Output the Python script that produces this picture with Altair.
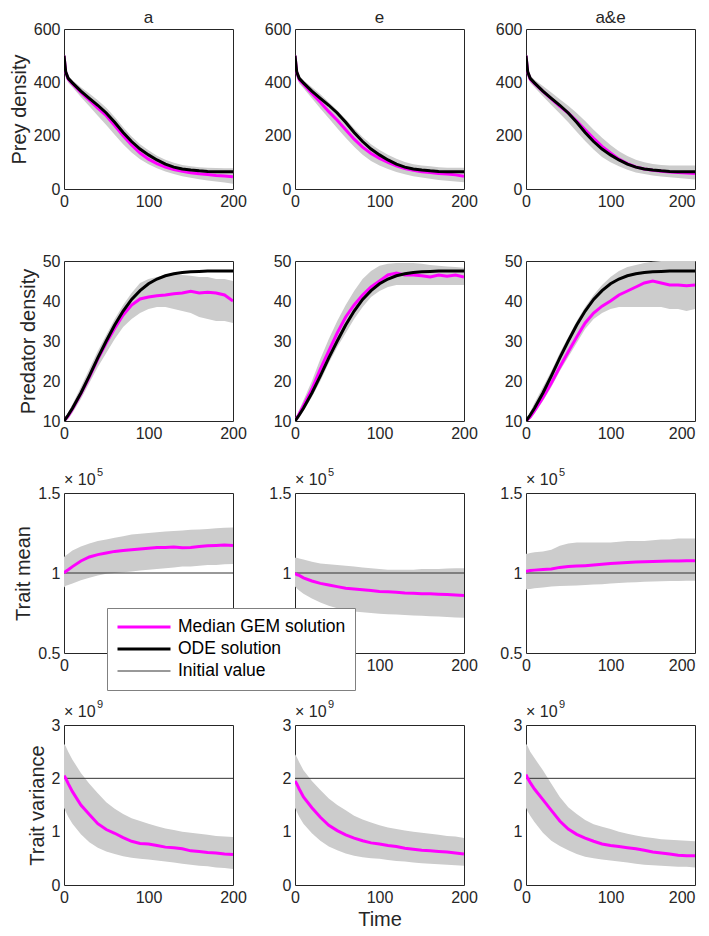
import altair as alt
import pandas as pd

T = [0, 2, 5, 10, 20, 30, 40, 50, 60, 70, 80, 90, 100, 110, 120, 130, 140, 150, 160, 170, 180, 190, 200]
COL_TITLES = ["a", "e", "a&e"]
SERIES = ["Median GEM solution", "ODE solution", "Initial value"]

# ---- Prey density ----
PREY_ODE = [500, 440, 415, 398, 367, 340, 314, 285, 250, 212, 178, 150, 128, 109, 93, 82, 75, 71, 68, 66, 65, 65, 65]
PREY_MED = [
    [500, 438, 412, 395, 362, 333, 303, 275, 238, 200, 165, 135, 112, 95, 82, 73, 66, 61, 57, 54, 51, 49, 46],
    [500, 438, 410, 393, 358, 325, 290, 258, 222, 187, 157, 133, 115, 100, 87, 77, 70, 65, 62, 58, 56, 53, 48],
    [500, 438, 412, 396, 366, 338, 310, 285, 255, 222, 190, 160, 135, 112, 95, 83, 75, 70, 67, 64, 62, 60, 58],
]
PREY_LO = [
    [470, 420, 398, 382, 345, 310, 275, 240, 203, 168, 137, 112, 93, 78, 66, 56, 48, 42, 37, 32, 28, 24, 20],
    [472, 420, 396, 378, 340, 302, 265, 228, 192, 158, 128, 105, 88, 75, 64, 55, 48, 43, 38, 34, 31, 28, 25],
    [475, 420, 398, 382, 348, 315, 283, 250, 215, 180, 148, 120, 100, 85, 72, 62, 56, 51, 47, 44, 41, 38, 36],
]
PREY_HI = [
    [500, 450, 425, 408, 382, 358, 333, 305, 270, 232, 197, 168, 145, 125, 110, 98, 90, 85, 82, 80, 79, 78, 78],
    [500, 450, 425, 408, 382, 355, 325, 295, 262, 227, 195, 168, 146, 128, 113, 101, 93, 88, 85, 82, 80, 80, 80],
    [500, 450, 426, 410, 386, 362, 337, 312, 285, 255, 222, 192, 165, 142, 124, 110, 100, 94, 90, 88, 88, 88, 88],
]

# ---- Predator density ----
PRED_ODE = [10, 10.6, 11.5, 13.2, 17.0, 21.3, 25.8, 30.0, 34.0, 37.5, 40.4, 42.6, 44.3, 45.5, 46.3, 46.8, 47.1, 47.3, 47.4, 47.5, 47.5, 47.5, 47.5]
PRED_MED = [
    [10, 10.5, 11.3, 13.0, 16.8, 21.0, 25.5, 29.5, 33.2, 36.5, 39.0, 40.5, 41.0, 41.3, 41.5, 41.8, 42.0, 42.4, 42.0, 42.2, 42.0, 41.5, 40.0],
    [10, 10.7, 11.8, 13.8, 18.0, 23.0, 27.5, 32.0, 36.0, 39.0, 41.5, 43.5, 45.0, 46.5, 47.0, 46.5, 46.5, 46.3, 46.0, 46.5, 46.2, 46.5, 46.0],
    [10, 10.4, 11.0, 12.5, 15.8, 19.5, 23.5, 27.3, 31.0, 34.5, 37.0, 38.7, 40.0, 41.5, 42.5, 43.5, 44.5, 45.0, 44.5, 44.0, 44.0, 43.8, 44.0],
]
PRED_LO = [
    [10, 10, 10.5, 12.0, 15.5, 19.5, 23.5, 27.0, 30.5, 33.5, 35.5, 37.0, 38.0, 38.5, 38.5, 38.0, 37.5, 37.0, 36.0, 35.5, 35.0, 35.0, 34.5],
    [10, 10, 10.8, 12.5, 16.0, 20.0, 24.5, 28.5, 32.0, 35.5, 38.5, 41.0, 42.5, 43.5, 44.0, 44.0, 44.0, 44.0, 44.0, 44.0, 44.0, 44.0, 44.0],
    [10, 10, 10.5, 11.8, 15.0, 18.5, 22.5, 26.0, 29.5, 33.0, 35.5, 37.0, 38.0, 38.5, 38.5, 38.5, 38.5, 38.5, 38.5, 38.0, 38.0, 37.5, 38.0],
]
PRED_HI = [
    [10, 11, 12.2, 14.2, 18.5, 23.0, 27.5, 31.5, 35.5, 39.0, 42.0, 44.5, 45.5, 46.0, 46.5, 46.5, 46.5, 46.3, 46.0, 46.0, 45.5, 45.5, 45.0],
    [10, 11.3, 12.8, 15.2, 20.0, 25.5, 30.5, 35.0, 39.0, 42.5, 45.5, 47.5, 48.8, 49.3, 49.5, 49.5, 49.5, 49.3, 49.0, 48.8, 48.6, 48.5, 48.3],
    [10, 11, 12.3, 14.5, 18.5, 22.5, 27.0, 31.0, 35.0, 38.5, 41.5, 44.0, 46.0, 47.5, 48.5, 49.0, 49.5, 49.8, 50.0, 50.0, 50.0, 50.0, 50.0],
]

# ---- Trait mean (x 1e5) ----
MEAN_INIT = 1.0
MEAN_MED = [
    [1.00, 1.01, 1.02, 1.04, 1.075, 1.10, 1.115, 1.125, 1.135, 1.14, 1.145, 1.15, 1.155, 1.16, 1.16, 1.162, 1.158, 1.16, 1.165, 1.17, 1.172, 1.175, 1.172],
    [1.00, 0.99, 0.985, 0.97, 0.95, 0.935, 0.925, 0.915, 0.905, 0.90, 0.895, 0.89, 0.885, 0.883, 0.88, 0.875, 0.873, 0.87, 0.87, 0.867, 0.865, 0.862, 0.86],
    [1.01, 1.012, 1.015, 1.018, 1.022, 1.025, 1.035, 1.04, 1.043, 1.046, 1.05, 1.055, 1.06, 1.062, 1.065, 1.068, 1.07, 1.072, 1.073, 1.075, 1.075, 1.076, 1.077],
]
MEAN_LO = [
    [0.91, 0.92, 0.925, 0.935, 0.955, 0.97, 0.985, 0.995, 1.0, 1.005, 1.01, 1.015, 1.02, 1.025, 1.03, 1.035, 1.04, 1.04, 1.045, 1.05, 1.05, 1.055, 1.056],
    [0.915, 0.905, 0.89, 0.87, 0.84, 0.815, 0.795, 0.78, 0.77, 0.76, 0.755, 0.75, 0.745, 0.742, 0.74, 0.738, 0.735, 0.733, 0.73, 0.728, 0.725, 0.722, 0.72],
    [0.895, 0.90, 0.90, 0.905, 0.91, 0.915, 0.918, 0.92, 0.922, 0.925, 0.928, 0.93, 0.935, 0.937, 0.94, 0.942, 0.945, 0.947, 0.948, 0.95, 0.95, 0.952, 0.952],
]
MEAN_HI = [
    [1.10, 1.11, 1.12, 1.14, 1.165, 1.185, 1.20, 1.21, 1.22, 1.23, 1.24, 1.245, 1.25, 1.255, 1.26, 1.262, 1.265, 1.27, 1.272, 1.275, 1.28, 1.283, 1.285],
    [1.095, 1.095, 1.09, 1.085, 1.07, 1.06, 1.055, 1.05, 1.045, 1.04, 1.035, 1.03, 1.025, 1.02, 1.02, 1.02, 1.02, 1.025, 1.025, 1.025, 1.028, 1.03, 1.03],
    [1.12, 1.12, 1.125, 1.13, 1.135, 1.145, 1.17, 1.185, 1.19, 1.19, 1.19, 1.19, 1.19, 1.195, 1.20, 1.20, 1.20, 1.205, 1.21, 1.21, 1.215, 1.215, 1.215],
]

# ---- Trait variance (x 1e9) ----
VAR_INIT = 2.0
VAR_MED = [
    [2.05, 2.0, 1.9, 1.75, 1.5, 1.32, 1.15, 1.04, 0.97, 0.89, 0.82, 0.78, 0.77, 0.74, 0.71, 0.70, 0.68, 0.64, 0.63, 0.61, 0.60, 0.58, 0.57],
    [1.95, 1.9, 1.8, 1.65, 1.45, 1.27, 1.12, 1.02, 0.94, 0.88, 0.83, 0.79, 0.77, 0.74, 0.72, 0.69, 0.67, 0.65, 0.64, 0.63, 0.62, 0.60, 0.58],
    [2.07, 2.0, 1.92, 1.8, 1.6, 1.4, 1.2, 1.05, 0.95, 0.88, 0.82, 0.77, 0.74, 0.72, 0.70, 0.68, 0.65, 0.62, 0.60, 0.58, 0.56, 0.55, 0.55],
]
VAR_LO = [
    [1.45, 1.38, 1.28, 1.15, 0.95, 0.80, 0.70, 0.63, 0.58, 0.54, 0.51, 0.49, 0.48, 0.46, 0.44, 0.42, 0.40, 0.38, 0.36, 0.35, 0.33, 0.32, 0.30],
    [1.45, 1.38, 1.28, 1.15, 0.97, 0.83, 0.72, 0.65, 0.59, 0.55, 0.52, 0.50, 0.49, 0.47, 0.45, 0.44, 0.42, 0.41, 0.40, 0.39, 0.38, 0.37, 0.36],
    [1.45, 1.38, 1.30, 1.18, 0.98, 0.83, 0.73, 0.65, 0.58, 0.53, 0.50, 0.48, 0.46, 0.44, 0.42, 0.40, 0.38, 0.37, 0.36, 0.35, 0.34, 0.34, 0.33],
]
VAR_HI = [
    [2.65, 2.6, 2.5, 2.35, 2.1, 1.9, 1.72, 1.55, 1.43, 1.33, 1.25, 1.2, 1.15, 1.1, 1.06, 1.03, 1.0, 0.98, 0.96, 0.94, 0.92, 0.91, 0.90],
    [2.45, 2.4, 2.3, 2.15, 1.95, 1.78, 1.62, 1.5, 1.4, 1.3, 1.23, 1.17, 1.12, 1.08, 1.05, 1.02, 1.0, 0.98, 0.96, 0.94, 0.92, 0.91, 0.88],
    [2.65, 2.6, 2.5, 2.38, 2.15, 1.9, 1.65, 1.46, 1.33, 1.22, 1.14, 1.09, 1.05, 1.0, 0.96, 0.93, 0.90, 0.88, 0.86, 0.85, 0.84, 0.83, 0.82],
]

ROWS = [
    dict(title="Prey density", domain=[0, 600], ticks=[0, 200, 400, 600],
         med=PREY_MED, lo=PREY_LO, hi=PREY_HI, ode=PREY_ODE, init=None, exp=None),
    dict(title="Predator density", domain=[10, 50], ticks=[10, 20, 30, 40, 50],
         med=PRED_MED, lo=PRED_LO, hi=PRED_HI, ode=PRED_ODE, init=None, exp=None),
    dict(title="Trait mean", domain=[0.5, 1.5], ticks=[0.5, 1, 1.5],
         med=MEAN_MED, lo=MEAN_LO, hi=MEAN_HI, ode=None, init=MEAN_INIT, exp="5"),
    dict(title="Trait variance", domain=[0, 3], ticks=[0, 1, 2, 3],
         med=VAR_MED, lo=VAR_LO, hi=VAR_HI, ode=None, init=VAR_INIT, exp="9"),
]

FONT = "Liberation Sans"
TXT = "#262626"
W, H = 169, 160
LABEL_EXPR = "'' + datum.value"

color_scale = alt.Scale(domain=SERIES, range=["#FF00FF", "#000000", "#333333"])
sw_scale = alt.Scale(type="ordinal", domain=SERIES, range=[3, 3, 1])


def series_df(values, name):
    return pd.DataFrame({"t": T, "v": values, "series": name})


def text_layer(s, x, y, size):
    return alt.Chart(pd.DataFrame({"s": [s]})).mark_text(
        align="left", baseline="alphabetic", fontSize=size, font=FONT, color=TXT
    ).encode(x=alt.value(x), y=alt.value(y), text="s:N")


def panel(r, c):
    spec = ROWS[r]
    xkw = dict(values=[0, 100, 200], labelExpr=LABEL_EXPR, labelFlush=False,
               title="Time" if (r == 3 and c == 1) else None)
    if c == 2:
        xkw["labelAlign"] = {"condition": {"test": "datum.value == 200", "value": "right"},
                             "value": "center"}
    xaxis = alt.Axis(**xkw)
    yaxis = alt.Axis(values=spec["ticks"], labelExpr=LABEL_EXPR, labelFlush=False,
                     title=spec["title"] if c == 0 else None)
    xs = alt.Scale(domain=[0, 200], nice=False, zero=False)
    ys = alt.Scale(domain=spec["domain"], nice=False, zero=False)
    x = alt.X("t:Q", scale=xs, axis=xaxis)

    band_df = pd.DataFrame({"t": T, "lo": spec["lo"][c], "hi": spec["hi"][c]})
    layers = [
        alt.Chart(band_df).mark_area(color="#CCCCCC", clip=True).encode(
            x=x, y=alt.Y("lo:Q", scale=ys, axis=yaxis), y2="hi:Q")
    ]

    def line(df):
        return alt.Chart(df).mark_line(clip=True, strokeCap="butt").encode(
            x=x, y=alt.Y("v:Q", scale=ys, axis=yaxis),
            color=alt.Color("series:N", scale=color_scale, legend=alt.Legend(title=None)),
            strokeWidth=alt.StrokeWidth("series:N", scale=sw_scale, legend=alt.Legend(title=None)),
        )

    if spec["init"] is not None:
        layers.append(line(pd.DataFrame({"t": [0, 200], "v": [spec["init"]] * 2,
                                         "series": SERIES[2]})))
    layers.append(line(series_df(spec["med"][c], SERIES[0])))
    if spec["ode"] is not None:
        layers.append(line(series_df(spec["ode"], SERIES[1])))
    if spec["exp"] is not None:
        layers.append(text_layer("× 10", 0, -8, 16))
        layers.append(text_layer(spec["exp"], 33, -17, 11))
    if r == 0:
        layers.append(alt.Chart(pd.DataFrame({"s": [COL_TITLES[c]]})).mark_text(
            align="center", baseline="alphabetic", fontSize=17, font=FONT, color=TXT
        ).encode(x=alt.value(W / 2), y=alt.value(-6), text="s:N"))

    return alt.layer(*layers).properties(width=W, height=H)


panels = [panel(r, c) for r in range(4) for c in range(3)]

chart = alt.concat(*panels, columns=3, spacing={"row": 72, "column": 62},
                   bounds="flush").properties(
    padding={"left": 0, "top": 0, "right": 0, "bottom": 0}
).configure_axis(
    labelFont=FONT, titleFont=FONT, labelFontSize=16, titleFontSize=20,
    titleFontWeight="normal", labelColor=TXT, titleColor=TXT,
    grid=False, domain=False, ticks=False, labelPadding=4, titlePadding=4,
    labelOverlap=False, labelBound=False,
).configure_axisX(labelPadding=4, titlePadding=4).configure_view(
    stroke=TXT, strokeWidth=1
).configure_legend(
    orient="none", legendX=43, legendY=579, fillColor="white", strokeColor="#808080",
    padding=9, labelFont=FONT, labelFontSize=17.5, labelColor="#000000", labelLimit=0,
    symbolType="stroke", symbolSize=2809, clipHeight=20, rowPadding=2, labelOffset=6,
)

chart.save("out.html", embed_options={"renderer": "svg", "actions": False})
